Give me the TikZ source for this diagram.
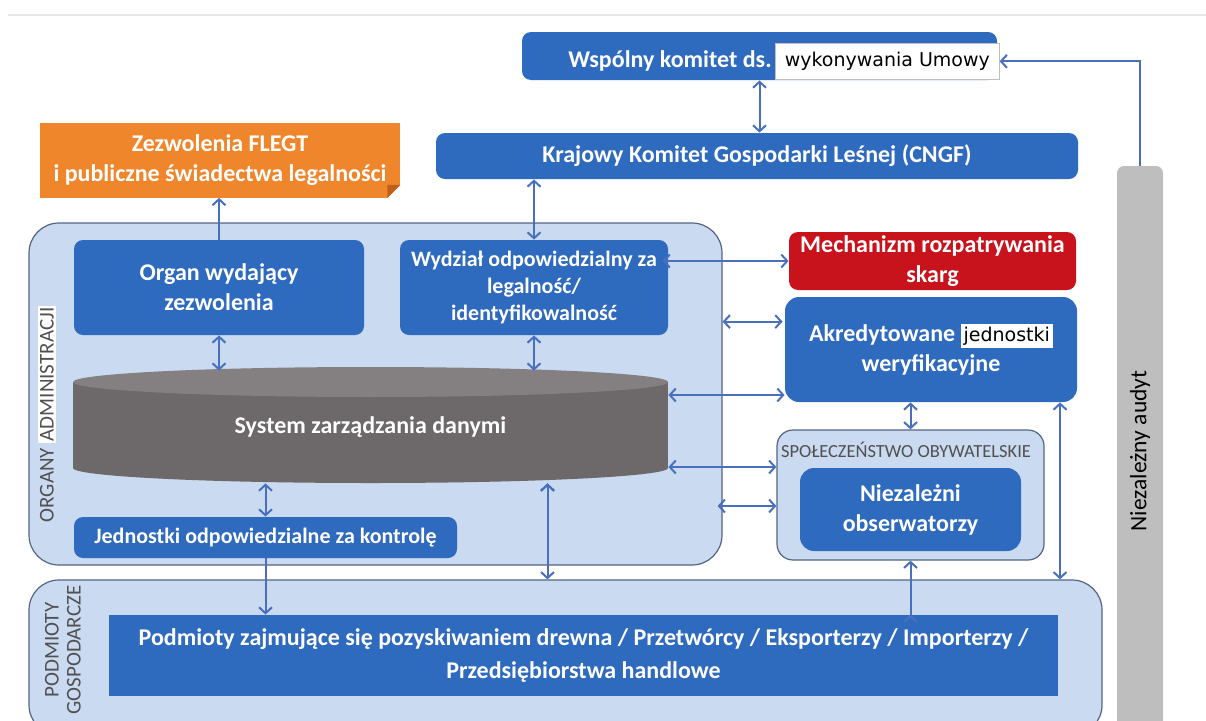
\documentclass[tikz,border=0pt]{standalone}
\usepackage{fontspec}
\setmainfont{Carlito}
\newfontfamily\umowafont{DejaVu Sans}
\usetikzlibrary{arrows.meta}

\definecolor{boxblue}{RGB}{46,106,190}
\definecolor{groupblue}{RGB}{202,218,240}
\definecolor{groupline}{RGB}{84,100,130}
\definecolor{linkblue}{RGB}{72,112,190}
\definecolor{skargred}{RGB}{200,18,28}
\definecolor{flegtorange}{RGB}{240,134,44}
\definecolor{foldorange}{RGB}{190,96,28}
\definecolor{dbbody}{RGB}{109,104,105}
\definecolor{dbtop}{RGB}{132,127,128}
\definecolor{auditgray}{RGB}{190,190,190}
\definecolor{labelgray}{RGB}{80,80,80}

\begin{document}
\begin{tikzpicture}[x=1pt,y=-1pt,>={Straight Barb[length=6pt,width=13pt]},thick,
  blue node/.style={rectangle,rounded corners=9pt,fill=boxblue,text=white,align=center,inner sep=0pt,
    font=\bfseries\fontsize{24}{30}\selectfont},
  small node/.style={blue node,font=\bfseries\fontsize{22}{27}\selectfont},
  group node/.style={rectangle,rounded corners=30pt,fill=groupblue,draw=groupline,line width=1.2pt,inner sep=0pt},
  side label/.style={rotate=90,text=labelgray,align=center,inner sep=1pt,font=\fontsize{21}{22}\selectfont},
  link/.style={<->,draw=linkblue,line width=2pt}]

 \useasboundingbox (0,0) rectangle (1206,720);
 \draw[black!10,line width=1.5pt] (8,15) -- (1206,15);

 \node[group node,minimum width=693pt,minimum height=342pt] (organy) at (375.5,394) {};
 \node[group node,minimum width=1073pt,minimum height=155pt] (gospodarcze) at (565.5,657.5) {};
 \node[group node,rounded corners=16pt,minimum width=267pt,minimum height=130pt] (spoleczenstwo) at (910.5,495) {};

 \node[side label] (organylbl) at (47,414) {ORGANY \fboxsep=2pt\colorbox{white}{ADMINISTRACJI}};
 \node[side label] (gospodarczelbl) at (63,650) {PODMIOTY\\GOSPODARCZE};
 \node[text=labelgray,inner sep=0pt,font=\fontsize{18.5}{20}\selectfont] (spoleczenstwolbl) at (906,450) {SPOŁECZEŃSTWO OBYWATELSKIE};

 \node[rectangle,rounded corners=7pt,fill=auditgray,rotate=90,minimum width=570pt,minimum height=46pt,
   inner sep=0pt,font=\fontsize{23.5}{26}\selectfont] (audyt) at (1140,451) {Niezależny audyt};

 \node[blue node,minimum width=475pt,minimum height=48pt] (wspolny) at (759.5,56) {};
 \node[fill=white,draw=black!25,line width=0.6pt,anchor=north west,inner sep=0pt,minimum width=224pt,minimum height=36pt,
   text=black,font=\umowafont\fontsize{19}{23}\selectfont] (umowa) at (775,43) {wykonywania Umowy};
 \node[anchor=east,text=white,inner sep=3pt,font=\bfseries\fontsize{24}{30}\selectfont] (wspolnytxt) at (umowa.west) {Wspólny komitet ds.};

 \node[blue node,minimum width=642pt,minimum height=46pt] (krajowy) at (757,156) {Krajowy Komitet Gospodarki Leśnej (CNGF)};

 \node[blue node,rounded corners=0pt,fill=flegtorange,minimum width=360pt,minimum height=75pt] (flegt) at (220,160)
   {Zezwolenia FLEGT\\i publiczne świadectwa legalności};
 \fill[white] (flegt.south east) -- ++(-13,0) -- ++(13,-13) -- cycle;
 \fill[foldorange] ([xshift=-13pt]flegt.south east) -- ++(13,-13) -- ++(-13,0) -- cycle;

 \node[blue node,minimum width=290pt,minimum height=95pt] (organ) at (219,287.5) {Organ wydający\\zezwolenia};
 \node[small node,minimum width=268pt,minimum height=95pt] (wydzial) at (534,287.5)
   {Wydział odpowiedzialny za\\legalność/\\identyfikowalność};

 \fill[dbbody] (73,382) rectangle (668,468);
 \fill[dbbody] (370.5,468) ellipse [x radius=297.5, y radius=15];
 \fill[dbtop] (370.5,382) ellipse [x radius=297.5, y radius=15];
 \node[text=white,inner sep=0pt,minimum width=595pt,minimum height=116pt,
   font=\bfseries\fontsize{24}{30}\selectfont] (system) at (370.5,427) {System zarządzania danymi};

 \node[small node,minimum width=383pt,minimum height=41pt] (jednostki) at (265.5,537.5) {Jednostki odpowiedzialne za kontrolę};

 \node[blue node,fill=skargred,minimum width=287pt,minimum height=58pt] (skargi) at (932.5,261) {Mechanizm rozpatrywania\\skarg};
 \node[blue node,rounded corners=14pt,minimum width=292pt,minimum height=105pt] (akredytowane) at (931,349.5)
   {Akredytowane \fboxsep=3pt\colorbox{white}{\umowafont\mdseries\fontsize{19}{23}\selectfont\color{black}jednostki}\\weryfikacyjne};
 \node[blue node,rounded corners=14pt,minimum width=221pt,minimum height=83pt] (obserwatorzy) at (910.5,509.5) {Niezależni\\obserwatorzy};

 \node[blue node,rounded corners=0pt,minimum width=949pt,minimum height=81pt,font=\bfseries\fontsize{24}{33}\selectfont] (podmioty) at (583.5,655.5)
   {Podmioty zajmujące się pozyskiwaniem drewna / Przetwórcy / Eksporterzy / Importerzy /\\Przedsiębiorstwa handlowe};

 \path[link]
    (wspolny.south)	edge (wspolny.south |- krajowy.north)
    (wydzial.north)	edge (wydzial.north |- krajowy.south)
    (organ.south)	edge ([yshift=-2pt]organ.south |- system.north)
    (wydzial.south)	edge ([yshift=-2pt]wydzial.south |- system.north)
    (jednostki.north)	edge ([yshift=2pt]jednostki.north |- system.south)
    ([xshift=-6pt]wydzial.east |- skargi.west) edge (skargi.west)
    (organy.east |- akredytowane.north west) ++(0,25) edge ++(60,0)
    ([yshift=32pt]system.east) edge ([yshift=32pt]system.east -| akredytowane.west)
    ([yshift=-40pt]system.east) edge ([yshift=-40pt]system.east -| spoleczenstwo.west)
    ([yshift=-112pt]organy.east) ++(-5,0) edge ([yshift=-112pt]organy.east -| spoleczenstwo.west)
    (akredytowane.south -| spoleczenstwo.north) edge (spoleczenstwo.north)
    ([xshift=129pt]akredytowane.south) edge ([xshift=129pt]akredytowane.south |- gospodarcze.north)
    ([xshift=177pt,yshift=2pt]system.south) edge ([xshift=177pt]system.south |- gospodarcze.north);

 \path[->,draw=linkblue,line width=2pt]
    (organ.north)	edge (organ.north |- flegt.south)
    (jednostki.south)	edge (jednostki.south |- podmioty.north)
    (podmioty.north -| spoleczenstwo.south) edge (spoleczenstwo.south);
 \draw[->,draw=linkblue,line width=2pt] (audyt.east) |- (umowa.east);

\end{tikzpicture}
\end{document}
